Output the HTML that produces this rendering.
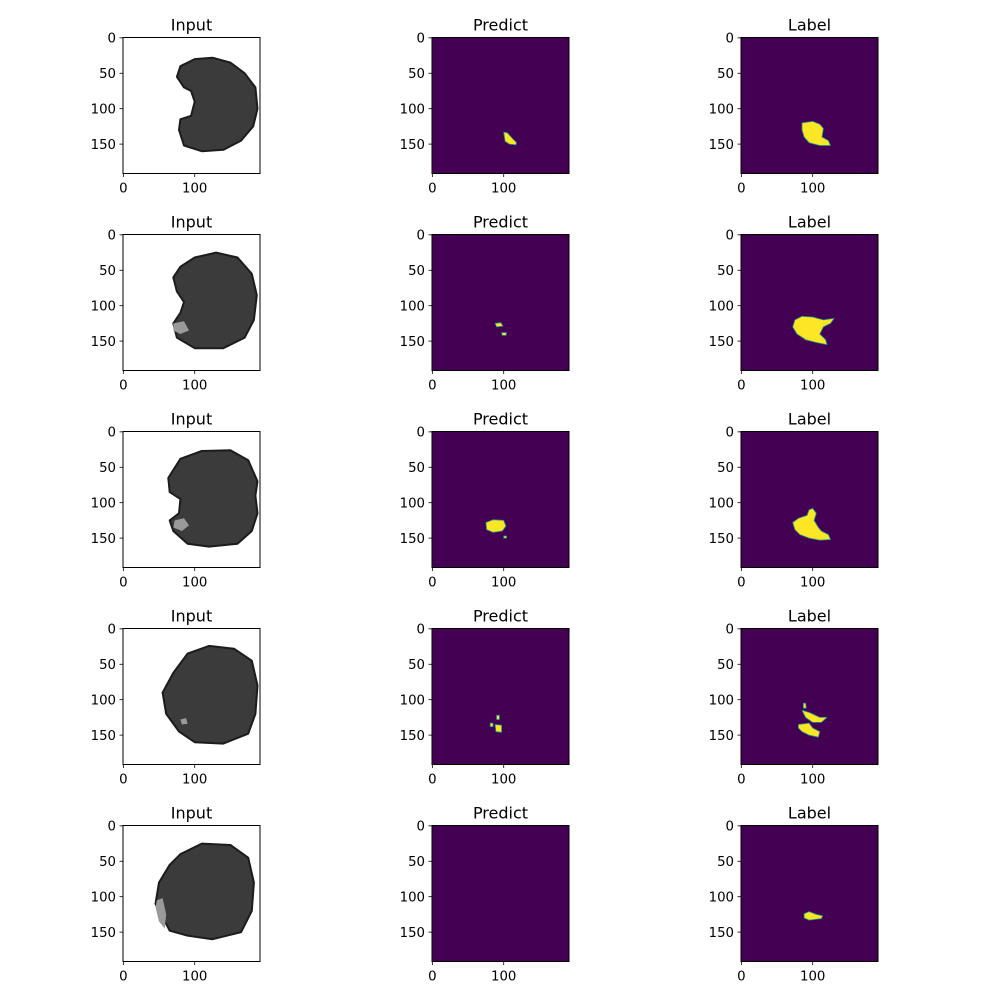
<!DOCTYPE html>
<html><head><meta charset="utf-8"><style>
html,body{margin:0;padding:0;background:#fff;}
svg{display:block;font-family:"DejaVu Sans","Liberation Sans",sans-serif;}
</style></head><body>
<svg id="fig" width="1000" height="1000" viewBox="0 0 1000 1000" xmlns="http://www.w3.org/2000/svg"></svg>
<script>
const titles = ["Input","Predict","Label"];
const yTicks = [0,50,100,150];
const xTicks = [0,100];
const imgSize = 192;
// brain outlines per row (data coords x,y)
const brains = [
 [[80,40],[100,30],[125,28],[150,35],[170,50],[185,70],[188,100],[182,125],[165,145],[140,158],[110,160],[85,152],[78,130],[80,115],[95,110],[100,90],[95,75],[85,70],[75,55]],
 [[80,45],[100,32],[130,25],[160,32],[180,55],[187,85],[183,120],[170,145],[140,160],[100,160],[75,145],[70,125],[80,110],[85,95],[75,80],[70,60]],
 [[80,38],[110,27],[150,26],[175,40],[188,70],[185,90],[188,115],[180,140],[160,158],[120,162],[90,158],[70,140],[65,125],[78,115],[80,95],[65,85],[63,65]],
 [[90,35],[120,24],[155,28],[180,45],[188,80],[185,120],[175,148],[140,162],[100,160],[78,145],[60,120],[55,90],[70,62]],
 [[80,40],[110,25],[150,27],[175,45],[183,80],[180,120],[165,150],[125,160],[90,155],[65,148],[45,110],[50,80],[65,55]]
];
// bright lesions in input images
const lesions = [
 [],
 [[70,125],[85,122],[92,135],[80,140],[70,135]],
 [[72,125],[85,122],[92,132],[82,140],[70,135]],
 [[80,128],[88,126],[90,134],[82,135]],
 [[47,105],[55,102],[60,125],[58,145],[50,135],[45,115]]
];
const predicts = [
 [[[100,133],[105,134],[112,142],[118,148],[117,151],[108,150],[102,146],[101,140]]],
 [[[88,125],[96,124],[99,129],[90,130]],[[97,138],[104,138],[103,142],[98,142]]],
 [[[75,128],[85,124],[100,125],[103,133],[98,140],[85,142],[76,138]],[[100,147],[104,147],[104,150],[100,150]]],
 [[[90,122],[94,122],[94,128],[90,128]],[[81,133],[85,133],[85,138],[81,138]],[[88,135],[97,136],[97,146],[89,145]]],
 []
];
const labels = [
 [[[85,120],[100,118],[110,122],[115,128],[113,140],[122,145],[125,152],[110,152],[95,148],[88,140],[85,130]]],
 [[[75,120],[85,115],[100,116],[115,120],[130,118],[125,125],[115,130],[110,140],[118,148],[120,155],[105,152],[90,148],[78,140],[72,130]]],
 [[[72,128],[80,122],[92,118],[95,110],[100,108],[105,115],[102,125],[108,135],[112,140],[122,145],[125,152],[110,153],[95,150],[82,145],[75,138]]],
 [[[87,105],[90,105],[91,112],[87,112]],[[85,115],[95,118],[110,125],[120,125],[112,132],[100,132],[90,125]],[[80,135],[95,133],[100,140],[110,145],[108,153],[95,150],[85,145],[80,140]]],
 [[[88,124],[95,121],[105,125],[114,127],[112,131],[95,133],[88,130]]]
];
const NS="http://www.w3.org/2000/svg";
const svg=document.getElementById('fig');
const colX=[123,432,741], rowY=[37.5,234.5,431.5,628.5,825.5], W=137, H=136;
function mk(tag,attrs,parent){const e=document.createElementNS(NS,tag);for(const k in attrs)e.setAttribute(k,attrs[k]);(parent||svg).appendChild(e);return e;}
function sx(c,v){return colX[c]+(v+0.5)*W/imgSize;}
function sy(r,v){return rowY[r]+(v+0.5)*H/imgSize;}
function pts(r,c,arr){return arr.map(p=>sx(c,p[0]).toFixed(1)+','+sy(r,p[1]).toFixed(1)).join(' ');}
for(let r=0;r<5;r++){for(let c=0;c<3;c++){
  const g=mk('g',{});
  
  
  const bg=mk('rect',{x:colX[c],y:rowY[r],width:W,height:H,fill:c===0?'#fff':'#440154'},g);
  
  
  if(c===0){
    const b=mk('polygon',{points:pts(r,c,brains[r]),fill:'#3b3b3b',stroke:'#1c1c1c','stroke-width':2,'stroke-linejoin':'round'},g);
    
    
    if(lesions[r].length){
      const l=mk('polygon',{points:pts(r,c,lesions[r]),fill:'#9a9a9a'},g);
      
      
    }
  } else {
    const set=c===1?predicts[r]:labels[r];
    set.forEach(s=>{
      const p=mk('polygon',{points:pts(r,c,s),fill:'#fde725',stroke:'#21918c','stroke-width':0.8,'stroke-linejoin':'round'},g);
      
      
    });
  }
  const fr=mk('rect',{x:colX[c],y:rowY[r],width:W,height:H,fill:'none',stroke:'#000','stroke-width':1},g);
  
  
  const t=mk('text',{x:colX[c]+W/2,y:rowY[r]-7,'text-anchor':'middle','font-size':16,fill:'#000'},g);
  t.textContent=titles[c];
  
  
  yTicks.forEach(v=>{
    const y=sy(r,v);
    mk('line',{x1:colX[c]-3.5,x2:colX[c],y1:y,y2:y,stroke:'#000','stroke-width':0.8},g);
    const tl=mk('text',{x:colX[c]-7,y:y+4.8,'text-anchor':'end','font-size':13.3,fill:'#000'},g);
    tl.textContent=v;
    
    
  });
  xTicks.forEach(v=>{
    const x=sx(c,v);
    mk('line',{x1:x,x2:x,y1:rowY[r]+H,y2:rowY[r]+H+3.5,stroke:'#000','stroke-width':0.8},g);
    const tl=mk('text',{x:x,y:rowY[r]+H+19,'text-anchor':'middle','font-size':13.3,fill:'#000'},g);
    tl.textContent=v;
    
    
  });
}}
</script>
</body></html>
